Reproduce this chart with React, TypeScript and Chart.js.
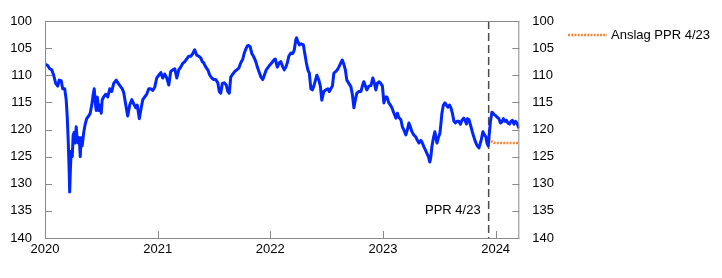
import React, { useEffect, useRef } from 'react';
import { Chart, registerables } from 'chart.js';

Chart.register(...registerables);

// Dates as decimal years
const dates = [
  2020.006, 2020.024, 2020.042, 2020.060, 2020.077, 2020.095, 2020.113, 2020.126, 2020.144, 2020.157,
  2020.175, 2020.188, 2020.197, 2020.206, 2020.215, 2020.219, 2020.226, 2020.233, 2020.242, 2020.250,
  2020.259, 2020.268, 2020.277, 2020.286, 2020.295, 2020.304, 2020.313, 2020.321, 2020.330, 2020.344,
  2020.357, 2020.370, 2020.388, 2020.401, 2020.415, 2020.428, 2020.437, 2020.446, 2020.455, 2020.464,
  2020.477, 2020.490, 2020.499, 2020.508, 2020.521, 2020.539, 2020.557, 2020.575, 2020.592, 2020.610,
  2020.632, 2020.650, 2020.668, 2020.686, 2020.699, 2020.717, 2020.734, 2020.752, 2020.770, 2020.788,
  2020.806, 2020.819, 2020.837, 2020.854, 2020.868, 2020.885, 2020.903, 2020.921, 2020.939, 2020.956,
  2020.974, 2020.992, 2021.010, 2021.028, 2021.045, 2021.063, 2021.081, 2021.099, 2021.116, 2021.134,
  2021.152, 2021.170, 2021.187, 2021.205, 2021.223, 2021.241, 2021.258, 2021.276, 2021.294, 2021.312,
  2021.329, 2021.347, 2021.365, 2021.383, 2021.396, 2021.409, 2021.427, 2021.445, 2021.463, 2021.480,
  2021.498, 2021.516, 2021.534, 2021.547, 2021.560, 2021.574, 2021.591, 2021.609, 2021.623, 2021.636,
  2021.649, 2021.667, 2021.685, 2021.702, 2021.720, 2021.738, 2021.756, 2021.769, 2021.782, 2021.796,
  2021.809, 2021.822, 2021.836, 2021.853, 2021.871, 2021.885, 2021.902, 2021.916, 2021.933, 2021.947,
  2021.964, 2021.982, 2021.996, 2022.013, 2022.031, 2022.044, 2022.062, 2022.080, 2022.093, 2022.111,
  2022.124, 2022.138, 2022.151, 2022.164, 2022.182, 2022.200, 2022.213, 2022.226, 2022.233, 2022.244,
  2022.258, 2022.275, 2022.293, 2022.306, 2022.320, 2022.333, 2022.346, 2022.360, 2022.373, 2022.386,
  2022.400, 2022.413, 2022.431, 2022.444, 2022.457, 2022.475, 2022.493, 2022.511, 2022.524, 2022.537,
  2022.551, 2022.564, 2022.582, 2022.595, 2022.608, 2022.626, 2022.639, 2022.653, 2022.666, 2022.679,
  2022.697, 2022.715, 2022.728, 2022.742, 2022.755, 2022.768, 2022.786, 2022.804, 2022.817, 2022.830,
  2022.844, 2022.857, 2022.875, 2022.893, 2022.910, 2022.924, 2022.937, 2022.950, 2022.964, 2022.981,
  2022.995, 2023.008, 2023.021, 2023.035, 2023.052, 2023.066, 2023.079, 2023.097, 2023.115, 2023.128,
  2023.141, 2023.159, 2023.172, 2023.186, 2023.203, 2023.217, 2023.230, 2023.243, 2023.257, 2023.274,
  2023.292, 2023.305, 2023.319, 2023.337, 2023.350, 2023.363, 2023.377, 2023.390, 2023.403, 2023.416,
  2023.425, 2023.434, 2023.448, 2023.461, 2023.470, 2023.479, 2023.492, 2023.505, 2023.514, 2023.523,
  2023.536, 2023.550, 2023.563, 2023.576, 2023.590, 2023.603, 2023.616, 2023.630, 2023.643, 2023.656,
  2023.674, 2023.687, 2023.701, 2023.718, 2023.732, 2023.741, 2023.750, 2023.763, 2023.781, 2023.794,
  2023.807, 2023.821, 2023.834, 2023.852, 2023.869, 2023.887, 2023.901, 2023.914, 2023.923, 2023.934,
  2023.945, 2023.954, 2023.967, 2023.985, 2024.003, 2024.016, 2024.029, 2024.043, 2024.056, 2024.069,
  2024.083, 2024.096, 2024.109, 2024.123, 2024.136, 2024.149, 2024.163, 2024.176, 2024.189, 2024.202,
  2024.209,
];

const values = [
  108.0, 108.2, 108.8, 109.0, 110.0, 111.5, 112.0, 110.9, 111.0, 112.5,
  112.5, 114.5, 117.5, 122.0, 128.0, 131.5, 127.0, 124.0, 125.0, 121.0,
  120.5, 122.5, 119.5, 122.0, 122.5, 121.5, 125.0, 121.5, 123.0, 120.5,
  119.0, 118.0, 117.5, 117.0, 115.5, 113.5, 112.5, 115.0, 116.5, 114.0,
  116.5, 115.5, 117.0, 114.5, 114.0, 113.5, 114.0, 112.5, 113.0, 111.5,
  110.9, 111.5, 112.0, 112.5, 113.2, 115.5, 117.5, 115.5, 114.5, 115.3,
  116.0, 115.5, 118.0, 116.0, 114.5, 114.0, 113.5, 112.5, 112.5, 112.8,
  112.2, 110.5, 110.0, 109.5, 110.5, 109.8, 110.5, 111.8, 109.3, 109.0,
  108.8, 110.5, 109.0, 108.5, 107.8, 107.5, 107.0, 106.5, 106.5, 106.0,
  105.3, 106.3, 106.5, 106.8, 107.5, 107.7, 108.5, 109.0, 110.0, 110.5,
  110.8, 110.8, 111.4, 113.0, 113.3, 111.5, 111.4, 111.8, 113.0, 113.3,
  110.3, 109.8, 109.3, 109.0, 108.7, 107.7, 107.0, 105.9, 105.2, 104.6,
  104.5, 104.8, 106.0, 106.6, 107.5, 108.5, 109.5, 110.3, 110.8, 110.0,
  109.0, 108.5, 108.1, 107.7, 107.2, 107.0, 108.5, 107.7, 107.5, 108.5,
  109.0, 108.5, 107.7, 106.5, 105.9, 106.0, 105.3, 103.5, 103.1, 103.8,
  104.4, 104.2, 104.4, 106.0, 107.7, 109.0, 109.6, 112.5, 112.7, 112.0,
  111.0, 110.0, 110.9, 112.0, 114.6, 113.0, 112.7, 112.5, 113.0, 112.5,
  112.0, 109.6, 109.3, 109.0, 108.5, 107.7, 107.2, 108.0, 109.0, 110.9,
  111.5, 112.1, 113.5, 116.0, 114.5, 113.3, 113.0, 113.0, 112.0, 111.2,
  112.0, 112.7, 112.0, 111.9, 110.5, 111.5, 112.7, 111.5, 111.2, 111.5,
  112.0, 115.1, 114.0, 114.0, 115.1, 115.5, 116.0, 117.0, 117.9, 117.0,
  117.8, 118.2, 119.5, 120.1, 121.0, 120.0, 118.8, 119.5, 120.4, 121.0,
  121.4, 122.0, 122.5, 122.0, 122.5, 123.2, 123.8, 124.4, 125.0, 126.0,
  125.0, 123.2, 121.5, 120.4, 121.5, 122.5, 121.5, 120.7, 119.0, 117.0,
  115.5, 115.1, 115.5, 115.9, 115.5, 116.0, 117.0, 118.5, 118.8, 118.5,
  118.5, 119.0, 118.3, 117.9, 118.5, 119.0, 118.0, 118.2, 119.5, 120.5,
  121.4, 122.3, 122.9, 123.4, 122.2, 120.4, 121.0, 121.4, 122.5, 123.0,
  120.5, 118.5, 116.8, 117.2, 117.5, 117.8, 118.0, 118.8, 118.6, 118.0,
  118.5, 118.3, 118.8, 119.0, 118.5, 118.3, 119.0, 118.5, 118.8, 119.5,
  119.8,
];

const forecastDates = [2023.938, 2023.955, 2023.970, 2023.985, 2024.0, 2024.05, 2024.1, 2024.15, 2024.21];
const forecastValues = [121.7, 122.0, 122.3, 122.45, 122.5, 122.5, 122.5, 122.5, 122.5];

const yTicks = [100, 105, 110, 115, 120, 125, 130, 135, 140];
const xTicks = [2020, 2021, 2022, 2023, 2024];
const xMin = 2020;
const xMax = 2024.21;
const pprDate = 2023.938;
const pprLabel = 'PPR 4/23';
const pprLabelLevel = 135;
const legendLabel = 'Anslag PPR 4/23';

const FONT = "'Liberation Sans', Arial, Helvetica, sans-serif";
const BLUE = '#0026ff';
const ORANGE = '#f5883a';
const AXIS = '#8a8a8a';

const decorPlugin = {
  id: 'decor',
  beforeDatasetsDraw(chart: any) {
    const { ctx, chartArea, scales } = chart;
    const x = scales.x.getPixelForValue(pprDate);
    ctx.save();
    ctx.strokeStyle = '#4a4a4a';
    ctx.lineWidth = 1.5;
    ctx.setLineDash([8, 4]);
    ctx.beginPath();
    ctx.moveTo(x, chartArea.top);
    ctx.lineTo(x, chartArea.bottom);
    ctx.stroke();
    ctx.setLineDash([]);
    ctx.fillStyle = '#000';
    ctx.font = `13px ${FONT}`;
    ctx.textAlign = 'right';
    ctx.textBaseline = 'middle';
    ctx.fillText(pprLabel, x - 8, scales.y.getPixelForValue(pprLabelLevel));
    ctx.restore();
  },
  afterDraw(chart: any) {
    const { ctx, chartArea, scales } = chart;
    const { left, right, top, bottom } = chartArea;
    ctx.save();
    ctx.strokeStyle = AXIS;
    ctx.lineWidth = 1;
    ctx.strokeRect(left + 0.5, top + 0.5, right - left - 1, bottom - top);
    ctx.beginPath();
    yTicks.forEach((v) => {
      const y = Math.round(scales.y.getPixelForValue(v)) + 0.5;
      ctx.moveTo(left, y);
      ctx.lineTo(left + 7, y);
      ctx.moveTo(right, y);
      ctx.lineTo(right - 7, y);
    });
    xTicks.forEach((v) => {
      const xx = Math.round(scales.x.getPixelForValue(v)) + 0.5;
      ctx.moveTo(xx, bottom);
      ctx.lineTo(xx, bottom - 7);
    });
    ctx.stroke();

    // legend
    const ly = 35;
    ctx.strokeStyle = ORANGE;
    ctx.lineWidth = 2.5;
    ctx.setLineDash([2, 1.2]);
    ctx.beginPath();
    ctx.moveTo(568, ly);
    ctx.lineTo(607, ly);
    ctx.stroke();
    ctx.setLineDash([]);
    ctx.fillStyle = '#000';
    ctx.font = `13px ${FONT}`;
    ctx.textAlign = 'left';
    ctx.textBaseline = 'middle';
    ctx.fillText(legendLabel, 611, ly);
    ctx.restore();
  },
};

export default function App() {
  const ref = useRef<HTMLCanvasElement | null>(null);
  useEffect(() => {
    if (!ref.current) return;
    const chart = new Chart(ref.current, {
      type: 'line',
      data: {
        datasets: [
          {
            label: 'Kurs',
            data: dates.map((d, i) => ({ x: d, y: values[i] })),
            borderColor: BLUE,
            borderWidth: 3,
            borderJoinStyle: 'round',
            pointRadius: 0,
            tension: 0,
            yAxisID: 'y',
          },
          {
            label: legendLabel,
            data: forecastDates.map((d, i) => ({ x: d, y: forecastValues[i] })),
            borderColor: ORANGE,
            borderWidth: 2.5,
            borderDash: [2, 1.2],
            pointRadius: 0,
            tension: 0,
            yAxisID: 'y',
          },
        ],
      },
      options: {
        animation: false,
        responsive: false,
        devicePixelRatio: 1,
        layout: { padding: { top: 21, left: 0, right: 0, bottom: 0 } },
        plugins: { legend: { display: false }, tooltip: { enabled: false } },
        scales: {
          x: {
            type: 'linear',
            min: xMin,
            max: xMax,
            grid: { display: false, drawTicks: false },
            border: { display: false },
            afterBuildTicks: (s: any) => {
              s.ticks = xTicks.map((v) => ({ value: v }));
            },
            afterFit: (s: any) => {
              s.height = 40;
            },
            ticks: {
              autoSkip: false,
              maxRotation: 0,
              padding: 4,
              color: '#000',
              font: { family: FONT, size: 13 },
              callback: (v: any) => String(v),
            },
          },
          y: {
            position: 'left',
            min: 100,
            max: 140,
            reverse: true,
            grid: { display: false, drawTicks: false },
            border: { display: false },
            afterFit: (s: any) => {
              s.width = 45;
            },
            ticks: {
              stepSize: 5,
              padding: 13,
              color: '#000',
              font: { family: FONT, size: 13 },
            },
          },
          y2: {
            position: 'right',
            min: 100,
            max: 140,
            reverse: true,
            grid: { display: false, drawTicks: false },
            border: { display: false },
            afterFit: (s: any) => {
              s.width = 202.7;
            },
            ticks: {
              stepSize: 5,
              padding: 13,
              color: '#000',
              font: { family: FONT, size: 13 },
            },
          },
        },
      },
      plugins: [decorPlugin],
    });
    return () => chart.destroy();
  }, []);
  return (
    <div style={{ position: 'fixed', left: 0, top: 0, width: 722, height: 278, background: '#fff' }}>
      <canvas ref={ref} width={722} height={278} style={{ width: 722, height: 278 }} />
    </div>
  );
}
